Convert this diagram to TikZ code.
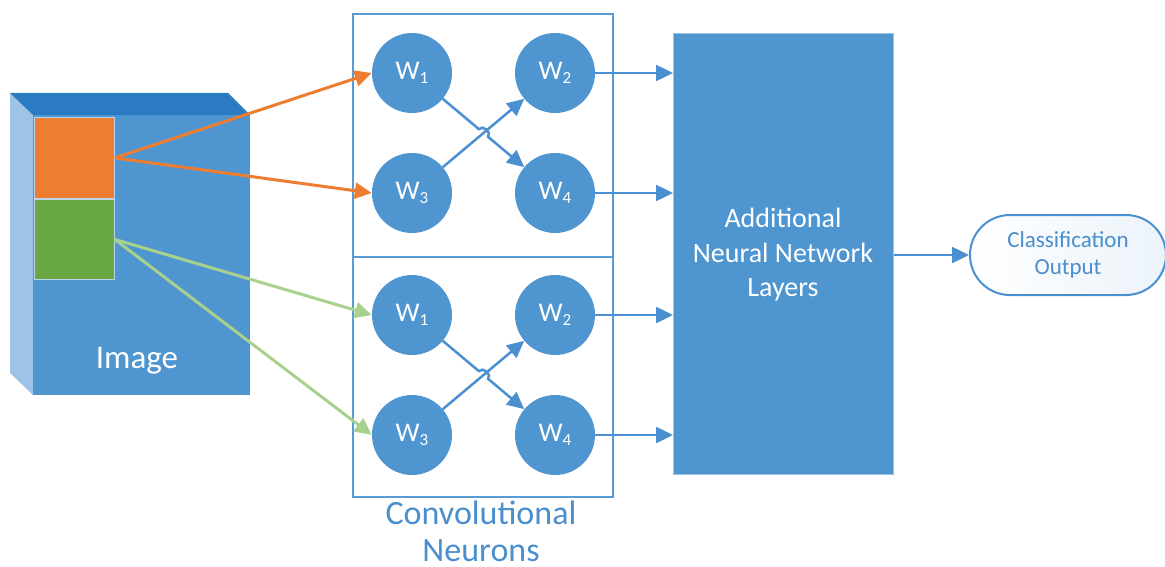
\documentclass[tikz,border=0pt]{standalone}
\usepackage{fontspec}
\setmainfont{Carlito}
\usetikzlibrary{arrows.meta,calc}
\definecolor{mainblue}{HTML}{4F95D0}
\definecolor{lineblue}{HTML}{4A90D0}
\definecolor{boxblue}{HTML}{5B9BD5}
\definecolor{topblue}{HTML}{2A7BC1}
\definecolor{sideblue}{HTML}{9DC3E6}
\definecolor{orng}{HTML}{ED7D31}
\definecolor{grn}{HTML}{6AA843}
\definecolor{lgrn}{HTML}{A9D18E}
\definecolor{txtblue}{HTML}{4A8ECD}
\newcommand{\wsub}[1]{W\raisebox{-0.28ex}{\fontsize{17}{17}\selectfont #1}}
\begin{document}
\begin{tikzpicture}[x=1pt,y=-1pt,
  neuron/.style={circle,fill=mainblue,minimum size=80pt,inner sep=0pt,text=white,
    font=\fontsize{27}{30}\selectfont},
  tipb/.style={-{Triangle[length=17pt,width=16pt]}},
  conn/.style={line width=2.5pt,draw=lineblue,tipb},
  oconn/.style={line width=3pt,draw=orng,-{Triangle[length=17pt,width=16pt]}},
  gconn/.style={line width=3pt,draw=lgrn,-{Triangle[length=17pt,width=16pt]}},
  panel/.style={draw=boxblue,line width=2pt,inner sep=0pt,anchor=north west},
  patch/.style={draw=sideblue!70!white,line width=0.8pt,inner sep=0pt,anchor=north west}]
\useasboundingbox (0,0) rectangle (1165,567);

% image cuboid
\fill[sideblue] (10,93) -- (33,115) -- (33,395) -- (10,373) -- cycle;
\fill[topblue] (10,93) -- (228,93) -- (250,115) -- (33,115) -- cycle;
\node[fill=mainblue,inner sep=0pt,anchor=north west,minimum width=217pt,minimum height=280pt] (img) at (33,115) {};
\node[text=white,font=\fontsize{33}{38}\selectfont] (imglabel) at (137,361) {Image};
\node[patch,fill=orng,minimum width=80pt,minimum height=81pt] (opatch) at (34,117) {};
\node[patch,fill=grn,minimum width=80pt,minimum height=80pt] (gpatch) at (34,199) {};

% convolutional panels
\node[panel,minimum width=260pt,minimum height=243pt] (ptop) at (352,13) {};
\node[panel,minimum width=260pt,minimum height=240pt] (pbot) at (352,256) {};
\node[text=txtblue,font=\fontsize{34}{37}\selectfont,align=center,inner sep=1pt] (convlabel) at (481,531) {Convolutional\\Neurons};

% neurons
\node[neuron] (a1) at (412,73) {\wsub{1}};
\node[neuron] (a2) at (555,73) {\wsub{2}};
\node[neuron] (a3) at (412,193) {\wsub{3}};
\node[neuron] (a4) at (555,193) {\wsub{4}};
\node[neuron] (b1) at (412,315) {\wsub{1}};
\node[neuron] (b2) at (555,315) {\wsub{2}};
\node[neuron] (b3) at (412,435) {\wsub{3}};
\node[neuron] (b4) at (555,435) {\wsub{4}};

% additional layers
\node[fill=mainblue,draw=boxblue!60!white,line width=0.6pt,inner sep=0pt,anchor=north west,
  minimum width=220pt,minimum height=441pt] (addl) at (673,33) {};
\node[text=white,font=\fontsize{28}{34.5}\selectfont,align=center] (addltext) at (783,255) {Additional\\Neural Network\\Layers};

% output
\node[draw=lineblue,line width=2pt,rounded corners=40pt,minimum width=196pt,minimum height=80pt,
  inner sep=0pt,left color=white,right color=boxblue!12!white,
  text=txtblue,font=\fontsize{23}{27}\selectfont,align=center] (out) at (1068,255) {Classification\\Output};

% inputs
\draw[oconn] (opatch.east) -- (a1.west);
\draw[oconn] (opatch.east) -- (a3.west);
\draw[gconn] (gpatch.east) -- (b1.west);
\draw[gconn] (gpatch.east) -- (b3.west);

% crossings
\foreach \u/\v/\x/\y in {a1/a4/a3/a2, b1/b4/b3/b2}{
  \coordinate (m) at ($(\u.center)!0.5!(\v.center)$);
  \draw[conn] (\x) -- (\y);
  \draw[conn] (\u) -- ($(m)!6pt!(\u.center)$) to[bend left=90,looseness=1.3] ($(m)!6pt!(\v.center)$) -- (\v);
}

% to additional layers
\foreach \n in {a2,a4,b2,b4}{
  \draw[conn] (\n) -- (\n -| addl.west);
}
\draw[conn] (addl.east |- out.west) -- (out.west);
\end{tikzpicture}
\end{document}
